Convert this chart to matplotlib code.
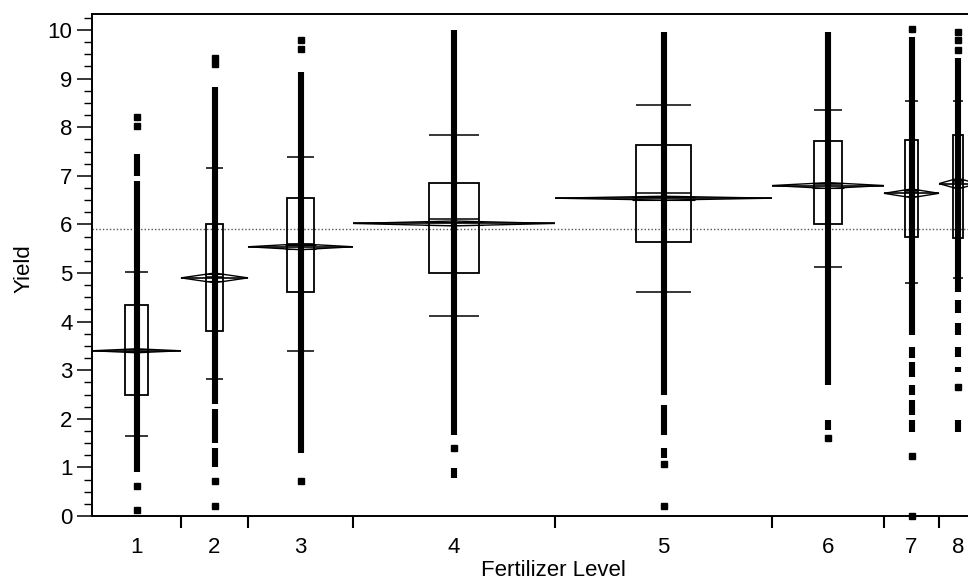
import matplotlib.pyplot as plt
from matplotlib.patches import Polygon, Rectangle
from matplotlib.ticker import MultipleLocator

plt.rcParams['font.family'] = ['Liberation Sans', 'DejaVu Sans']

levels = ['1', '2', '3', '4', '5', '6', '7', '8']
# level widths on the x axis follow the group sizes
group_size = [89, 67, 105, 202, 217, 112, 55, 38]

means = [3.40, 4.90, 5.54, 6.02, 6.54, 6.80, 6.64, 6.84]
ci_half = [0.04, 0.10, 0.06, 0.05, 0.04, 0.06, 0.09, 0.11]
grand_mean = 5.9

q10 = [1.65, 2.82, 3.39, 4.12, 4.60, 5.12, 4.80, 4.90]
q25 = [2.48, 3.81, 4.60, 5.00, 5.64, 6.00, 5.75, 5.72]
q50 = [3.38, 4.92, 5.60, 6.11, 6.65, 6.84, 6.66, 6.88]
q75 = [4.34, 6.01, 6.54, 6.85, 7.63, 7.72, 7.74, 7.84]
q90 = [5.02, 7.17, 7.38, 7.84, 8.46, 8.35, 8.55, 8.55]

# dense stacks of observations, as (low, high) runs, plus lone points
runs = [
    [(0.91, 6.90), (7.00, 7.45)],
    [(2.30, 8.83), (1.50, 2.20), (1.00, 1.40)],
    [(1.30, 9.14)],
    [(1.67, 10.0), (0.78, 0.99)],
    [(2.49, 9.96), (1.66, 2.28), (1.20, 1.40)],
    [(2.70, 9.96), (1.77, 1.97)],
    [(3.72, 9.86), (3.25, 3.48), (2.87, 3.17), (2.49, 2.70), (2.08, 2.39), (1.73, 1.97)],
    [(4.60, 9.42), (4.18, 4.44), (3.72, 3.97), (3.27, 3.48), (2.96, 3.07), (1.73, 1.98)],
]
singles = [
    [8.22, 8.02, 0.62, 0.12],
    [9.42, 9.30, 0.73, 0.21],
    [9.80, 9.62, 0.73],
    [1.40],
    [1.07, 0.21],
    [1.60],
    [10.03, 1.24, 0.0],
    [9.96, 9.80, 9.59, 2.65],
]

total = sum(group_size)
edges = [0]
for n in group_size:
    edges.append(edges[-1] + n)
centers = [(edges[i] + edges[i + 1]) / 2 for i in range(len(levels))]

fig = plt.figure(figsize=(9.68, 5.82), dpi=100)
ax = fig.add_axes([92 / 968, 66 / 582, total / 968, 502 / 582])
ax.set_xlim(0, total)
ax.set_ylim(0, 10.33)

ax.axhline(grand_mean, color='#555555', lw=1.0, ls=(0, (1, 1.5)), zorder=1)

for i in range(len(levels)):
    c, w = centers[i], group_size[i]
    bw = 0.25 * w
    ax.add_patch(Rectangle((c - bw / 2, q25[i]), bw, q75[i] - q25[i],
                           fill=False, ec='black', lw=1.3, zorder=2))
    ax.hlines([q10[i], q50[i], q90[i]], c - bw / 2, c + bw / 2,
              color='black', lw=1.1, zorder=2)

    for lo, hi in runs[i]:
        ax.vlines(c, lo, hi, color='black', lw=4.4, zorder=3)
    ax.plot([c] * len(singles[i]), singles[i], 's', color='black', ms=3.8,
            zorder=3, clip_on=False)

    m, h = means[i], ci_half[i]
    l, r = edges[i], edges[i + 1]
    ax.hlines(m, l, r, color='black', lw=1.2, zorder=4)
    ax.add_patch(Polygon([(l, m), (c, m + h), (r, m), (c, m - h)],
                         closed=True, fill=False, ec='black', lw=1.0, zorder=4))
    ow = 0.146 * w
    ax.hlines([m + h * 0.707, m - h * 0.707], c - ow, c + ow,
              color='black', lw=0.8, zorder=4)

ax.set_yticks(range(11))
ax.yaxis.set_minor_locator(MultipleLocator(0.25))
ax.tick_params(axis='y', which='major', length=11, width=1.1, labelsize=16, pad=3)
ax.tick_params(axis='y', which='minor', length=6, width=1.0)

ax.set_xticks(centers)
ax.set_xticklabels(levels)
ax.set_xticks(edges[1:-1], minor=True)
ax.tick_params(axis='x', which='major', length=0, labelsize=16, pad=15)
ax.tick_params(axis='x', which='minor', length=8.5, width=1.5)

for s in ['left', 'bottom', 'top']:
    ax.spines[s].set_linewidth(1.4)
ax.spines['right'].set_visible(False)

fig.text(24 / 968, 1 - 269 / 582, 'Yield', rotation=90, ha='center',
         va='center', fontsize=16)
fig.text(553 / 968, 1 - 570 / 582, 'Fertilizer Level', ha='center',
         va='center', fontsize=16)

fig.savefig('out.png', dpi=100)
